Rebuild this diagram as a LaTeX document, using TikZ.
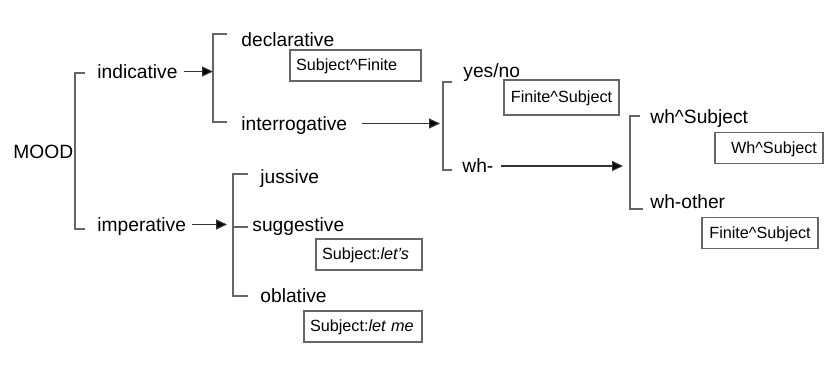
\documentclass[tikz,border=0pt]{standalone}
\usepackage{fontspec}
\setmainfont{Liberation Sans}
\usetikzlibrary{arrows.meta, positioning}

\tikzset{
	lab/.style={inner sep=0pt, anchor=west, text height=1.5ex, text depth=.25ex},
	box/.style={draw=black!60, line width=0.6pt, inner xsep=3pt, inner ysep=0pt,
		minimum height=15.5pt, text height=7pt, text depth=1.6pt,
		font=\fontsize{8.1pt}{9.5pt}\selectfont},
	brk/.style={draw=black!60, line width=0.65pt},
	arr/.style={draw=black!80, line width=0.6pt, -{Triangle[length=5.5pt,width=5pt,fill=black]}},
}

\begin{document}
\begin{tikzpicture}[x=0.5pt, y=-0.5pt, font=\fontsize{9.6pt}{11.5pt}\selectfont]
	\useasboundingbox (0,0) rectangle (836,365);
	
	% root
	\node[lab] (MOOD) at (13,152) {MOOD};
	
	% level 1
	\node[lab] (ind) at (97,71.5) {indicative};
	\node[lab] (imp) at (97,224.5) {imperative};
	
	% level 2
	\node[lab] (decl) at (241,39.5) {declarative};
	\node[lab] (inter) at (241,123.5) {interrogative};
	\node[lab] (juss) at (260,177) {jussive};
	\node[lab] (sugg) at (252,225) {suggestive};
	\node[lab] (obl) at (260,295.5) {oblative};
	
	% level 3
	\node[lab] (yn) at (463,70.5) {yes/no};
	\node[lab] (wh) at (462,166) {wh-};
	
	% level 4
	\node[lab] (whS) at (650,116.5) {wh\textasciicircum Subject};
	\node[lab] (whO) at (650,201.5) {wh-other};
	
	% structures
	\node[box, text width=59.5pt, align=left] (declS) at (355.5,65.5) {Subject\textasciicircum Finite};
	\node[box, text width=51.5pt, align=center, minimum height=17.5pt] (ynS) at (561.5,97.5) {Finite\textasciicircum Subject};
	\node[box, text width=48pt, align=right] (whSS) at (769,148) {Wh\textasciicircum Subject};
	\node[box, text width=52pt, align=center] (whOS) at (760,233) {Finite\textasciicircum Subject};
	\node[box, text width=47pt, align=left] (suggS) at (369,254.5) {Subject:\textit{let’s}};
	\node[box, text width=53pt, align=left] (oblS) at (363,326.5) {Subject:\textit{let me}};
	
	% brackets
	\coordinate (s1) at (75,151);
	\coordinate (s2) at (213,78);
	\coordinate (s3) at (443,126);
	\coordinate (s4) at (630,162);
	\coordinate (s5) at (233,235);
	\coordinate (t1a) at (85,73);  \coordinate (t1b) at (85,229);
	\coordinate (t2a) at (227,34); \coordinate (t2b) at (227,122);
	\coordinate (t3a) at (452,82); \coordinate (t3b) at (452,170);
	\coordinate (t4a) at (640,116); \coordinate (t4b) at (643,209);
	\coordinate (t5a) at (248,174); \coordinate (t5b) at (248,227); \coordinate (t5c) at (248,296);
	
	\draw[brk] (t1a) -| (s1) |- (t1b);
	\draw[brk] (t2a) -| (s2) |- (t2b);
	\draw[brk] (t3a) -| (s3) |- (t3b);
	\draw[brk] (t4a) -| (s4) |- (t4b);
	\draw[brk] (t5a) -| (s5) |- (t5c);
	\draw[brk] (s5 |- t5b) -- (t5b);
	
	% choices
	\draw[arr] ([xshift=3pt]ind.east) -- (ind.east -| s2);
	\draw[arr, shorten >=1.5pt] ([xshift=7.5pt]inter.east) -- (inter.east -| s3);
	\draw[arr, shorten >=3.5pt] ([xshift=3.5pt]wh.east) -- (wh.east -| s4);
	\draw[arr, shorten >=3pt] ([xshift=3pt]imp.east) -- (imp.east -| s5);
	
\end{tikzpicture}
\end{document}
